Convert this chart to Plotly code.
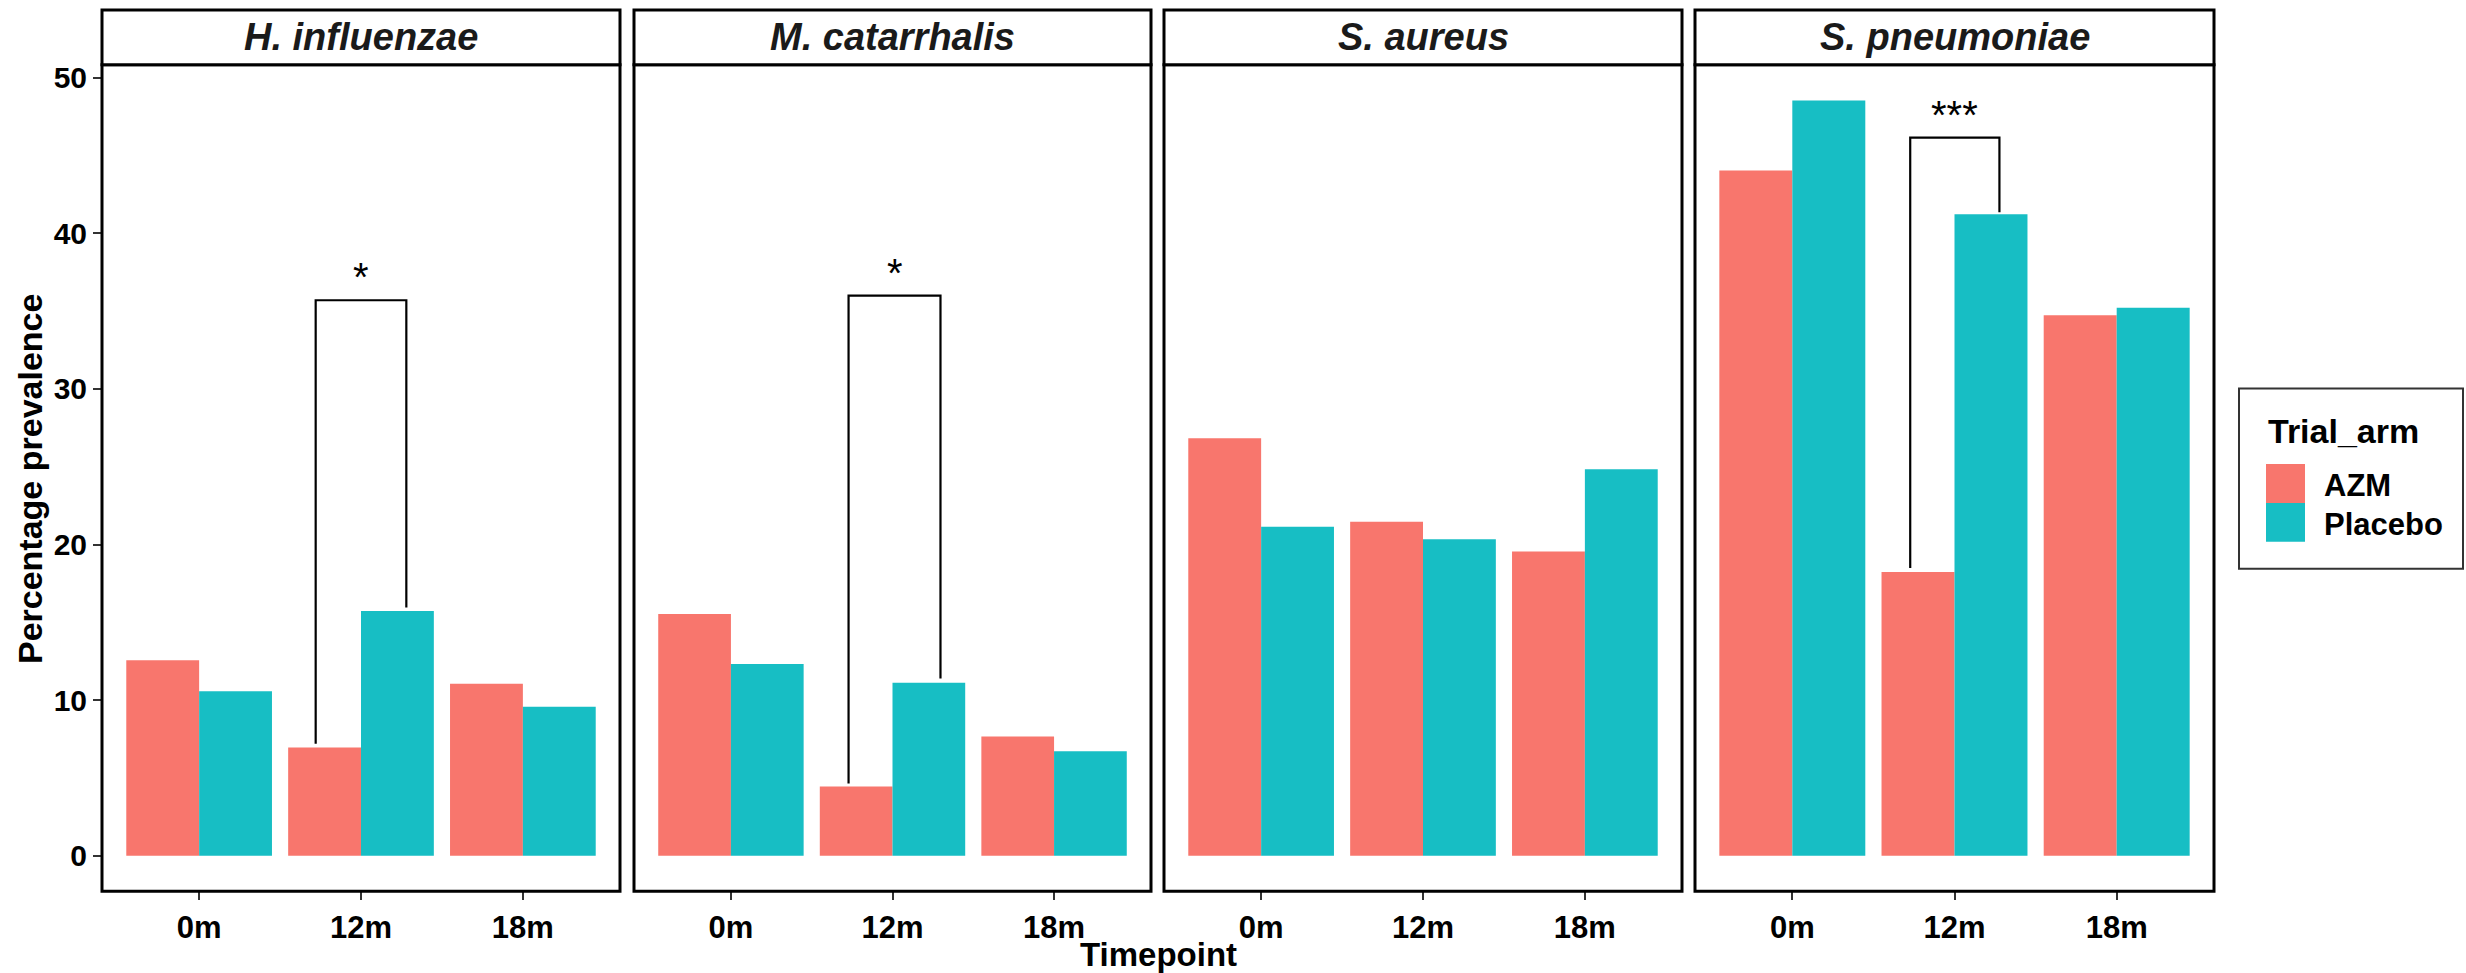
import plotly.graph_objects as go

# ---------------- data ----------------
species = ["H. influenzae", "M. catarrhalis", "S. aureus", "S. pneumoniae"]
timepoints = ["0m", "12m", "18m"]
arms = ["AZM", "Placebo"]

azm_values = {
    "H. influenzae": [12.56, 6.96, 11.05],
    "M. catarrhalis": [15.54, 4.45, 7.67],
    "S. aureus": [26.83, 21.46, 19.55],
    "S. pneumoniae": [44.04, 18.24, 34.74],
}
placebo_values = {
    "H. influenzae": [10.57, 15.74, 9.58],
    "M. catarrhalis": [12.32, 11.13, 6.72],
    "S. aureus": [21.14, 20.35, 24.84],
    "S. pneumoniae": [48.53, 41.22, 35.21],
}

# significance brackets (timepoint 12m)
sig_species = ["H. influenzae", "M. catarrhalis", "S. pneumoniae"]
sig_xmin = [1.72, 1.728, 1.727]
sig_xmax = [2.28, 2.297, 2.277]
sig_top = [35.7, 36.0, 46.15]
sig_left_end = [7.2, 4.65, 18.5]
sig_right_end = [15.95, 11.4, 41.35]
sig_labels = ["*", "*", "***"]

y_ticks = [0, 10, 20, 30, 40, 50]

colors = {"AZM": "#F8766D", "Placebo": "#17BEC4"}

# ---------------- layout helpers ----------------
W, H = 2466, 973
FONT = "Liberation Sans, Arial, sans-serif"


def px(x):
    return x / W


def py(y):
    return 1 - y / H


panel_px = [(102, 620), (634, 1151), (1164, 1682), (1695, 2214)]
panel_top, panel_bottom = 61, 891
strip_top = 6

fig = go.Figure()
shapes = []
annotations = []

for i, sp in enumerate(species):
    n = "" if i == 0 else str(i + 1)
    xa, ya = "x" + n, "y" + n
    for arm, vals in (("AZM", azm_values), ("Placebo", placebo_values)):
        fig.add_trace(go.Bar(
            x=[1, 2, 3], y=vals[sp], name=arm, marker_color=colors[arm],
            marker_line_width=0, xaxis=xa, yaxis=ya, showlegend=False,
            offsetgroup=arm,
        ))
    if sp in sig_species:
        k = sig_species.index(sp)
        fig.add_trace(go.Scatter(
            x=[sig_xmin[k], sig_xmin[k], sig_xmax[k], sig_xmax[k]],
            y=[sig_left_end[k], sig_top[k], sig_top[k], sig_right_end[k]],
            mode="lines", line=dict(color="black", width=2.2),
            xaxis=xa, yaxis=ya, showlegend=False, hoverinfo="skip",
        ))
        annotations.append(dict(
            x=(sig_xmin[k] + sig_xmax[k]) / 2, y=sig_top[k], xref=xa, yref=ya,
            text=sig_labels[k], showarrow=False, yanchor="bottom", yshift=-1,
            font=dict(family=FONT, size=40, color="black"),
        ))

    x0, x1 = panel_px[i]
    dom = [px(x0), px(x1)]
    fig.update_layout(**{
        "xaxis" + n: dict(
            domain=dom, anchor=ya, range=[0.4, 3.6], tickvals=[1, 2, 3],
            ticktext=timepoints, ticks="outside", ticklen=8, tickwidth=2,
            tickcolor="#333333", showgrid=False, zeroline=False,
            showline=False,
            tickfont=dict(family=FONT, size=31, color="black", weight="bold"),
        ),
        "yaxis" + n: dict(
            domain=[py(panel_bottom), py(panel_top)], anchor=xa,
            range=[-2.28, 50.83], tickvals=y_ticks,
            showticklabels=(i == 0), ticks="outside" if i == 0 else "",
            ticklen=8, tickwidth=2, tickcolor="#333333",
            showgrid=False, zeroline=False, showline=False,
            tickfont=dict(family=FONT, size=30, color="black", weight="bold"),
        ),
    })
    # panel border
    shapes.append(dict(type="rect", xref="paper", yref="paper",
                       x0=px(x0), x1=px(x1), y0=py(panel_bottom), y1=py(panel_top),
                       line=dict(color="black", width=3), fillcolor="rgba(0,0,0,0)",
                       layer="above"))
    # strip
    shapes.append(dict(type="rect", xref="paper", yref="paper",
                       x0=px(x0), x1=px(x1), y0=py(panel_top), y1=py(strip_top),
                       line=dict(color="black", width=3), fillcolor="white"))
    annotations.append(dict(
        x=px((x0 + x1) / 2), y=py((strip_top + panel_top) / 2), xref="paper", yref="paper",
        text=sp, showarrow=False, xanchor="center", yanchor="middle",
        font=dict(family=FONT, size=38, color="#1a1a1a", weight="bold", style="italic"),
    ))

# axis titles
annotations.append(dict(
    x=px(1158), y=py(954), xref="paper", yref="paper", text="Timepoint",
    showarrow=False, xanchor="center", yanchor="middle",
    font=dict(family=FONT, size=33, color="black", weight="bold"),
))
annotations.append(dict(
    x=px(30), y=py(477), xref="paper", yref="paper", text="Percentage prevalence",
    showarrow=False, xanchor="center", yanchor="middle", textangle=-90,
    font=dict(family=FONT, size=34, color="black", weight="bold"),
))

# legend (manual)
shapes.append(dict(type="rect", xref="paper", yref="paper",
                   x0=px(2239), x1=px(2463), y0=py(567), y1=py(386),
                   line=dict(color="#333333", width=2), fillcolor="white"))
annotations.append(dict(
    x=px(2266), y=py(429), xref="paper", yref="paper", text="Trial_arm",
    showarrow=False, xanchor="left", yanchor="middle",
    font=dict(family=FONT, size=34, color="black", weight="bold"),
))
leg_rows = [(462, 501), (501, 540)]
for arm, (t, b) in zip(arms, leg_rows):
    shapes.append(dict(type="rect", xref="paper", yref="paper",
                       x0=px(2266), x1=px(2305), y0=py(b), y1=py(t),
                       line=dict(width=0), fillcolor=colors[arm]))
    annotations.append(dict(
        x=px(2322), y=py((t + b) / 2 + 2), xref="paper", yref="paper", text=arm,
        showarrow=False, xanchor="left", yanchor="middle",
        font=dict(family=FONT, size=31, color="black", weight="bold"),
    ))

fig.update_layout(
    width=W, height=H, margin=dict(l=0, r=0, t=0, b=0),
    paper_bgcolor="white", plot_bgcolor="white",
    barmode="group", bargap=0.1, bargroupgap=0,
    shapes=shapes, annotations=annotations, showlegend=False,
    font=dict(family=FONT),
)

fig.write_html("out.html")
